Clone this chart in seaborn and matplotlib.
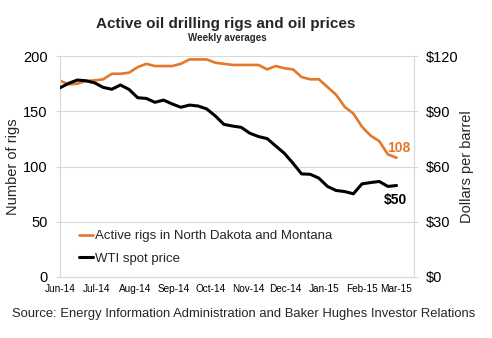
import matplotlib
matplotlib.use("Agg")
import matplotlib.pyplot as plt
import matplotlib.dates as mdates
import seaborn as sns
import pandas as pd
import numpy as np

sns.set_theme(style="white")
plt.rcParams['font.family'] = ['Liberation Sans', 'DejaVu Sans']

weeks = pd.date_range("2014-06-01", periods=40, freq="7D")
rigs = [177.7, 174.5, 175, 177.5, 178, 179, 184, 184, 185, 190,
        193, 191, 191, 191, 193, 197, 197, 197, 194, 193,
        192, 192, 192, 192, 188, 191, 189, 188, 181, 179,
        179, 172, 165, 154, 148, 136, 128, 123, 111, 108]
wti = [102.8, 105.2, 107, 106.6, 105.5, 103, 102, 104.3, 101.9, 97.4,
       97, 94.9, 96.1, 94, 92.2, 93.4, 92.9, 91.3, 87.5, 82.9,
       82, 81.3, 78.1, 76.3, 75.2, 71.2, 67.2, 61.8, 56, 55.8,
       53.7, 49.2, 47, 46.4, 45.2, 50.6, 51.3, 51.9, 49.2, 49.7]
rig_label = "Active rigs in North Dakota and Montana"
wti_label = "WTI spot price"
left_ticks = [0, 50, 100, 150, 200]
right_ticks = [0, 30, 60, 90, 120]

df = pd.DataFrame({"week": weeks, "rigs": rigs, "wti": wti})

ORANGE = "#E3782A"
GRID = "#D9D9D9"

fig = plt.figure(figsize=(4.92, 3.38), dpi=100)
ax = fig.add_axes([0.122, 0.1805, 0.719, 0.6535])
ax2 = ax.twinx()

sns.lineplot(data=df, x="week", y="rigs", ax=ax, color=ORANGE, lw=1.9, label=rig_label, legend=False, zorder=3)
sns.lineplot(data=df, x="week", y="wti", ax=ax2, color="black", lw=2.2, label=wti_label, legend=False, zorder=4)

ax.set_ylim(0, 200)
ax2.set_ylim(0, 120)
ax.set_yticks(left_ticks)
ax2.set_yticks(right_ticks)
ax2.set_yticklabels([f"${v}" for v in right_ticks])
ax.set_xlim(pd.Timestamp("2014-06-01"), pd.Timestamp("2015-03-15"))
ax.xaxis.set_major_locator(mdates.MonthLocator())
ax.xaxis.set_major_formatter(mdates.DateFormatter("%b-%y"))

ax.grid(axis="y", color=GRID, lw=0.8)
ax.set_axisbelow(True)
for a in (ax, ax2):
    for s in a.spines.values():
        s.set_color(GRID)
        s.set_linewidth(0.8)
    a.spines["top"].set_visible(False)
    a.tick_params(colors="black", labelsize=10.5, length=3, width=0.8, color=GRID)
ax.tick_params(axis="x", labelsize=7.2, pad=2, length=3)
ax.tick_params(axis="y", labelsize=10.5, pad=6)
ax2.tick_params(axis="y", labelsize=10.5, pad=6)

ax.set_xlabel("")
ax.set_ylabel("Number of rigs", fontsize=10.5, labelpad=2)
ax2.set_ylabel("Dollars per barrel", fontsize=10.5, labelpad=1)

ax.text(weeks[-1] + pd.Timedelta(days=2), 117, "108", color=ORANGE, fontsize=10, fontweight="bold", ha="center", va="center")
ax2.text(weeks[-1] - pd.Timedelta(days=1), 41.8, "$50", color="black", fontsize=10, fontweight="bold", ha="center", va="center")

h1, l1 = ax.get_legend_handles_labels()
h2, l2 = ax2.get_legend_handles_labels()
ax2.legend(h1 + h2, l1 + l2, loc="lower left", bbox_to_anchor=(0.02, 0.0), frameon=False,
           fontsize=9.5, handlelength=1.1, handletextpad=0.1, labelspacing=0.8)

fig.text(0.459, 0.928, "Active oil drilling rigs and oil prices", ha="center", va="center",
         fontsize=11, fontweight="bold")
fig.text(0.462, 0.887, "Weekly averages", ha="center", va="center", fontsize=7, fontweight="bold")
fig.text(0.495, 0.072, "Source: Energy Information Administration and Baker Hughes Investor Relations",
         ha="center", va="center", fontsize=9.4)

fig.savefig("out.png", dpi=100)
